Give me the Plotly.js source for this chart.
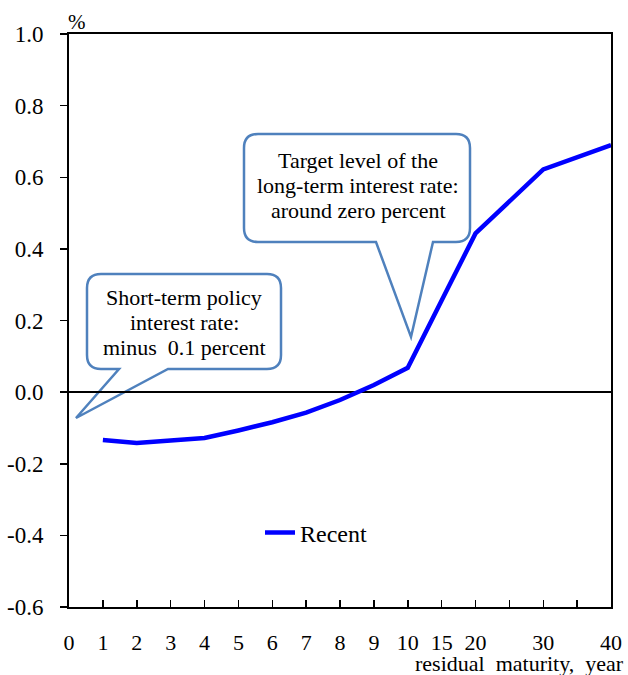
<!DOCTYPE html>
<html>
<head>
<meta charset="utf-8">
<script src="https://cdn.plot.ly/plotly-3.0.1.min.js"></script>
<style>html,body{margin:0;padding:0;background:#fff;}</style>
</head>
<body>
<div id="chart" style="width:628px;height:675px;"></div>
<script>
// ---- data ----
const maturities = [1, 2, 3, 4, 5, 6, 7, 8, 9, 10, 15, 20, 30, 40];
const yields = [-0.134, -0.142, -0.135, -0.128, -0.107, -0.084, -0.057, -0.022, 0.020, 0.068, 0.256, 0.443, 0.622, 0.690];
const tickMaturities = [0, 1, 2, 3, 4, 5, 6, 7, 8, 9, 10, 15, 20, 25, 30, 35, 40];
const tickLabels = ['0', '1', '2', '3', '4', '5', '6', '7', '8', '9', '10', '15', '20', '', '30', '', '40'];
const yTickVals = [-0.6, -0.4, -0.2, 0.0, 0.2, 0.4, 0.6, 0.8, 1.0];
const yTickText = ['-0.6', '-0.4', '-0.2', '0.0', '0.2', '0.4', '0.6', '0.8', '1.0'];
const seriesName = 'Recent';
const callout1Lines = ['Short-term policy', 'interest rate:', 'minus  0.1 percent'];
const callout2Lines = ['Target level of the', 'long-term interest rate:', 'around zero percent'];

// piecewise axis scale: 0-10 one slot per year, 10-20 one slot per 5 years, 20-40 one slot per 5 years (double width)
function axisPos(m) {
  if (m <= 10) return m;
  if (m <= 20) return 10 + (m - 10) / 5;
  return 12 + (m - 20) / 5;
}

// ---- geometry helpers ----
const L = 69, T = 34, R = 17, B = 68, W = 628 - L - R, H = 675 - T - B;
const XR = [0, 16], YR = [-0.6, 1.0];
const dx = px => XR[0] + (px - L) / W * (XR[1] - XR[0]);
const dy = py => YR[1] - (py - T) / H * (YR[1] - YR[0]);
const px2paperX = px => (px - L) / W;
const py2paperY = py => 1 - (py - T) / H;

function calloutPath(x0, y0, x1, y1, r, pb1, tip, pb2) {
  const P = (x, y) => dx(x) + ',' + dy(y);
  return 'M' + P(x0 + r, y0) +
    ' L' + P(x1 - r, y0) + ' Q' + P(x1, y0) + ' ' + P(x1, y0 + r) +
    ' L' + P(x1, y1 - r) + ' Q' + P(x1, y1) + ' ' + P(x1 - r, y1) +
    ' L' + P(pb2, y1) + ' L' + P(tip[0], tip[1]) + ' L' + P(pb1, y1) +
    ' L' + P(x0 + r, y1) + ' Q' + P(x0, y1) + ' ' + P(x0, y1 - r) +
    ' L' + P(x0, y0 + r) + ' Q' + P(x0, y0) + ' ' + P(x0 + r, y0) + ' Z';
}

const calloutColor = 'rgb(79,129,189)';
const serif = '"Liberation Serif", "Times New Roman", Times, serif';

const shapes = [
  {type: 'path', xref: 'x', yref: 'y', layer: 'below',
   path: calloutPath(87, 274, 281, 369, 14, 119, [76, 418], 168),
   line: {color: calloutColor, width: 2.5}, fillcolor: 'white'},
  {type: 'path', xref: 'x', yref: 'y', layer: 'below',
   path: calloutPath(244, 134, 470, 242, 14, 376, [411, 337], 433),
   line: {color: calloutColor, width: 2.5}, fillcolor: 'white'}
];

const annotations = [];
function addLines(lines, cx, yFirst, step) {
  lines.forEach((t, i) => {
    annotations.push({xref: 'paper', yref: 'paper', x: px2paperX(cx), y: py2paperY(yFirst + i * step),
      text: t, showarrow: false, xanchor: 'center', yanchor: 'middle',
      font: {family: serif, size: 22, color: '#000'}});
  });
}
addLines(callout1Lines, 184, 297, 25);
addLines(callout2Lines, 358, 160, 25.5);

annotations.push({xref: 'paper', yref: 'paper', x: px2paperX(66), y: py2paperY(22), text: '%',
  showarrow: false, xanchor: 'left', yanchor: 'middle', font: {family: serif, size: 21, color: '#000'}});
annotations.push({xref: 'paper', yref: 'paper', x: px2paperX(626), y: py2paperY(663),
  text: 'residual&#160;&#160;maturity,&#160;&#160;year', showarrow: false, xanchor: 'right', yanchor: 'middle',
  font: {family: serif, size: 22, color: '#000'}});

const trace = {
  x: maturities.map(axisPos), y: yields, type: 'scatter', mode: 'lines', name: seriesName,
  line: {color: '#0000ff', width: 4.5}, showlegend: true
};

const layout = {
  width: 628, height: 675,
  margin: {l: L, r: R, t: T, b: B, pad: 0},
  paper_bgcolor: 'white', plot_bgcolor: 'white',
  font: {family: serif, size: 22, color: '#000'},
  xaxis: {
    range: XR, tickmode: 'array', tickvals: tickMaturities.map(axisPos), ticktext: tickLabels,
    ticks: 'inside', ticklen: 7, tickwidth: 1.5, tickcolor: '#000',
    showgrid: false, zeroline: false, showline: true, linecolor: '#000', linewidth: 2, mirror: true,
    tickfont: {family: serif, size: 22, color: '#000'}, ticklabelstandoff: 15, fixedrange: true
  },
  yaxis: {
    range: YR, tickmode: 'array', tickvals: yTickVals, ticktext: yTickText,
    ticks: 'outside', ticklen: 7, tickwidth: 1.5, tickcolor: '#000',
    showgrid: false, zeroline: true, zerolinecolor: '#000', zerolinewidth: 1.5,
    showline: true, linecolor: '#000', linewidth: 2, mirror: true,
    tickfont: {family: serif, size: 23, color: '#000'}, ticklabelstandoff: 12, fixedrange: true
  },
  showlegend: true,
  legend: {x: px2paperX(260), y: py2paperY(533), xanchor: 'left', yanchor: 'middle',
    bgcolor: 'rgba(0,0,0,0)', borderwidth: 0, font: {family: serif, size: 24, color: '#000'}},
  shapes: shapes,
  annotations: annotations
};

Plotly.newPlot('chart', [trace], layout, {staticPlot: true, displayModeBar: false});
</script>
</body>
</html>
